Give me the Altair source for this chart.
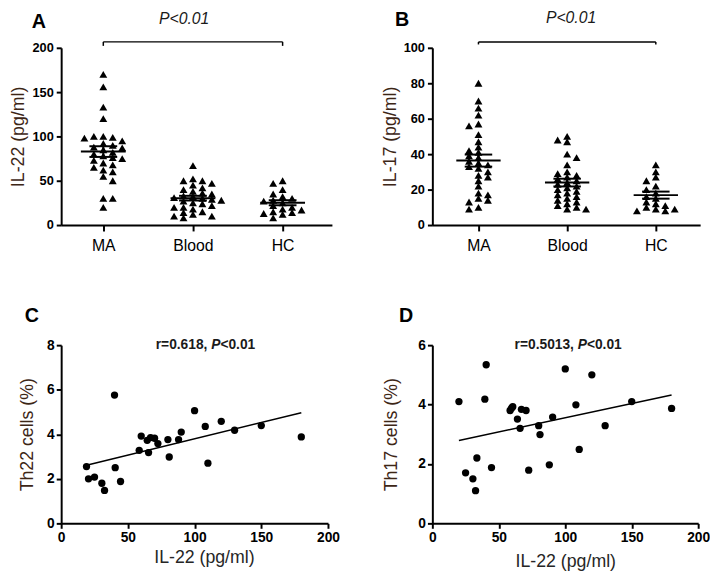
import json
import altair as alt
import numpy as np
import pandas as pd

CATS = ["MA", "Blood", "HC"]

# Panel A: IL-22 (pg/ml)
IL22_MA = [170, 156, 133, 120, 100, 100, 99, 98, 95, 92, 90, 88, 87, 85, 82, 80, 78, 76,
           75, 73, 70, 68, 65, 62, 60, 55, 50, 30, 30, 20]
IL22_BLOOD = [67, 52, 50, 50, 47, 45, 42, 40, 38, 36, 35, 33, 32, 31, 30, 29, 28, 27, 25,
              24, 22, 20, 20, 18, 15, 14, 12, 10, 10, 8]
IL22_HC = [50, 47, 40, 35, 32, 30, 28, 27, 25, 22, 20, 18, 17, 15, 14, 13, 12, 8]

# Panel B: IL-17 (pg/ml)
IL17_MA = [80, 70, 66, 62, 57, 56, 51, 47, 44, 42, 41, 39, 38, 36, 35, 34, 33, 32, 30, 28,
           27, 25, 22, 18, 17, 15, 14, 13, 10, 9]
IL17_BLOOD = [50, 48, 47, 40, 38, 34, 30, 29, 28, 27, 26, 25, 24, 23, 22, 21, 20, 19, 18,
              17, 16, 15, 14, 13, 12, 11, 10, 9, 9]
IL17_HC = [34, 30, 27, 25, 22, 20, 18, 16, 15, 13, 12, 11, 10, 9, 9, 8, 8]

# Panel C: IL-22 vs Th22 cells (%)
C_IL22 = [19, 20.5, 25, 30.5, 32.5, 40, 40.5, 44.5, 58.5, 60, 64.5, 65.5, 67, 70, 72.5,
          80, 81, 88, 90, 100, 108, 110, 120, 130, 150, 180]
C_TH22 = [2.55, 2.0, 2.08, 1.8, 1.48, 5.76, 2.5, 1.88, 3.28, 3.92, 3.73, 3.18, 3.85, 3.82,
          3.58, 3.76, 2.98, 3.76, 4.1, 5.06, 4.35, 2.7, 4.58, 4.18, 4.39, 3.88]

# Panel D: IL-22 vs Th17 cells (%)
D_IL22 = [20, 25, 30.5, 32.5, 33.5, 39.5, 40.5, 44.5, 58.5, 59.5, 60.5, 64, 66, 67, 70.5,
          72.5, 80, 81, 88, 90.5, 100, 108, 110.5, 120, 130, 150, 180]
D_TH17 = [4.1, 1.7, 1.5, 1.1, 2.2, 4.18, 5.34, 1.88, 3.8, 3.88, 3.93, 3.51, 3.2, 3.84, 3.8,
          1.79, 3.29, 2.99, 1.97, 3.58, 5.2, 3.99, 2.49, 5.0, 3.29, 4.1, 3.87]

FONT = "Liberation Sans"
YTITLE_COLOR = "#3d2616"
XTITLE_COLOR = "#262626"


def swarm(vals, ppu_y, ppu_x, dx=4.8, w=6.5, h=5.0):
    order = sorted(range(len(vals)), key=lambda i: -vals[i])
    placed = []
    offs = [0.0] * len(vals)
    for n, i in enumerate(order):
        y = vals[i] * ppu_y
        cands = [0]
        for m in range(1, 30):
            cands += [m, -m] if n % 2 == 0 else [-m, m]
        x = 0.0
        for k in cands:
            x = k * dx
            if all(abs(x - px) >= w or abs(y - py) >= h for px, py in placed):
                break
        placed.append((x, y))
        offs[i] = x / ppu_x
    return offs


def letter_mark(letter, px, py):
    return alt.Chart(pd.DataFrame({"t": [letter]})).mark_text(
        font=FONT, fontSize=20, fontWeight="bold", color="black", align="left",
        baseline="alphabetic").encode(x=alt.value(px), y=alt.value(py), text="t:N")


def dot_panel(groups, ymax, ystep, ytitle, letter, width, height, xdom,
              br_y, br_tail, p_y, p_dx, title_pad, letter_x, letter_y):
    ppx = width / (xdom[1] - xdom[0])
    ppy = height / ymax
    rows, stats = [], []
    for ci, vals in enumerate(groups):
        offs = swarm(vals, ppy, ppx)
        for v, o in zip(vals, offs):
            rows.append({"x": ci + o, "y": v})
        a = np.array(vals, float)
        m = a.mean()
        s = a.std(ddof=1) / np.sqrt(len(a))
        stats.append({"c": ci, "m": m, "lo": m - s, "hi": m + s})
    pts = pd.DataFrame(rows)
    st = pd.DataFrame(stats)
    mean_df = pd.DataFrame({"x": st.c - 0.25, "x2": st.c + 0.25, "y": st.m})
    cap_df = pd.DataFrame({"x": list(st.c - 0.155) * 2, "x2": list(st.c + 0.155) * 2,
                           "y": list(st.lo) + list(st.hi)})
    err_df = pd.DataFrame({"x": st.c, "y": st.lo, "y2": st.hi})
    last = len(CATS) - 1
    br_df = pd.DataFrame({"x": [0], "x2": [last], "y": [br_y]})
    tail_df = pd.DataFrame({"x": [0, last], "y": [br_y, br_y], "y2": [br_tail, br_tail]})
    p_df = pd.DataFrame({"x": [1], "y": [p_y], "t": ["P<0.01"]})

    label_expr = json.dumps(CATS) + "[datum.value]"
    X = alt.X("x:Q", scale=alt.Scale(domain=xdom, nice=False, zero=False),
              axis=alt.Axis(values=list(range(len(CATS))), labelExpr=label_expr, title=None,
                            labelFontSize=16, labelFontWeight="normal", labelPadding=7,
                            tickSize=6, labelFlush=False))
    Y = alt.Y("y:Q", scale=alt.Scale(domain=[0, ymax], nice=False),
              axis=alt.Axis(values=list(range(0, ymax + 1, ystep)), title=ytitle,
                            titleFontSize=18, titleFontWeight="normal",
                            titleColor=YTITLE_COLOR, titlePadding=title_pad,
                            labelFontSize=13, labelFontWeight="bold", labelPadding=3,
                            tickSize=5))

    points = alt.Chart(pts).mark_point(shape="triangle-up", filled=True, size=64,
                                       color="black", opacity=1).encode(x=X, y=Y)
    mean_l = alt.Chart(mean_df).mark_rule(color="black", strokeWidth=2).encode(
        x=X, x2="x2:Q", y=Y)
    caps = alt.Chart(cap_df).mark_rule(color="black", strokeWidth=2).encode(
        x=X, x2="x2:Q", y=Y)
    err = alt.Chart(err_df).mark_rule(color="black", strokeWidth=2).encode(
        x=X, y=Y, y2="y2:Q")
    br = alt.Chart(br_df).mark_rule(color="black", strokeWidth=1.5).encode(
        x=X, x2="x2:Q", y=Y)
    tails = alt.Chart(tail_df).mark_rule(color="black", strokeWidth=1.5).encode(
        x=X, y=Y, y2="y2:Q")
    ptxt = alt.Chart(p_df).mark_text(font=FONT, fontSize=16, fontStyle="italic",
                                     dx=p_dx, baseline="middle", color="#1a1a1a").encode(
        x=X, y=Y, text="t:N")
    return alt.layer(points, err, mean_l, caps, br, tails, ptxt,
                     letter_mark(letter, letter_x, letter_y)).properties(
        width=width, height=height)


def corr_panel(xs, ys, ymax, ytitle, letter, width, height, r_text, x_anchor,
               title_pad, xtitle_pad, xtitle_x, letter_x, letter_y):
    df = pd.DataFrame({"x": xs, "y": ys})
    xaxis_kw = dict(values=[0, 50, 100, 150, 200], title="IL-22 (pg/ml)", titleFontSize=18,
                    titleFontWeight="normal", titleColor=XTITLE_COLOR,
                    titlePadding=xtitle_pad, labelFontSize=14, labelFontWeight="bold",
                    labelPadding=2, tickSize=5, labelFlush=False)
    if xtitle_x is not None:
        xaxis_kw["titleX"] = xtitle_x
    X = alt.X("x:Q", scale=alt.Scale(domain=[0, 200], nice=False),
              axis=alt.Axis(**xaxis_kw))
    Y = alt.Y("y:Q", scale=alt.Scale(domain=[0, ymax], nice=False),
              axis=alt.Axis(values=list(range(0, ymax + 1, 2)), title=ytitle,
                            titleFontSize=18, titleFontWeight="normal",
                            titleColor=YTITLE_COLOR, titlePadding=title_pad,
                            labelFontSize=14, labelFontWeight="bold", labelPadding=2,
                            tickSize=5))
    pts = alt.Chart(df).mark_circle(size=55, color="black", opacity=1).encode(x=X, y=Y)
    fit = alt.Chart(df).transform_regression("x", "y").mark_line(
        color="black", strokeWidth=1.5).encode(x=X, y=Y)
    ann = pd.DataFrame({"x": [x_anchor], "y": [ymax]})
    t1 = alt.Chart(ann).mark_text(font=FONT, fontSize=14, fontWeight="bold", align="right",
                                  baseline="middle", dx=-3.9, color="#1a1a1a").encode(
        x=X, y=Y, text=alt.value(r_text))
    t2 = alt.Chart(ann).mark_text(font=FONT, fontSize=14, fontWeight="bold",
                                  fontStyle="italic", align="left", baseline="middle",
                                  color="#1a1a1a").encode(x=X, y=Y, text=alt.value("P"))
    t3 = alt.Chart(ann).mark_text(font=FONT, fontSize=14, fontWeight="bold", align="left",
                                  baseline="middle", dx=9.3, color="#1a1a1a").encode(
        x=X, y=Y, text=alt.value("<0.01"))
    return alt.layer(pts, fit, t1, t2, t3, letter_mark(letter, letter_x, letter_y)).properties(
        width=width, height=height)


pA = dot_panel([IL22_MA, IL22_BLOOD, IL22_HC], 200, 50, "IL-22 (pg/ml)", "A",
               275, 180, [-0.47, 2.55], 206.7, 202.2, 232, -9, 5, -30, -20)
pB = dot_panel([IL17_MA, IL17_BLOOD, IL17_HC], 100, 20, "IL-17 (pg/ml)", "B",
               272, 180, [-0.52, 2.5], 103.3, 101.9, 116.8, 4, 4, -38, -22)
pC = corr_panel(C_IL22, C_TH22, 8, "Th22 cells (%)", "C", 271, 181, "r=0.618,", 112.5,
                10, 5, 145, -37, -24)
pD = corr_panel(D_IL22, D_TH17, 6, "Th17 cells (%)", "D", 270, 181, "r=0.5013,", 109.4,
                18, 9, None, -34, -24)

chart = alt.concat(pA, pB, pC, pD, columns=2, spacing={"row": 122, "column": 102},
                   bounds="flush", align="none").properties(
    padding={"left": 1, "top": -3, "right": 0, "bottom": 0}
).configure(font=FONT).configure_view(stroke=None).configure_axis(
    grid=False, domainColor="black", tickColor="black", labelColor="black",
    domainWidth=2, tickWidth=2, labelFont=FONT, titleFont=FONT
)

chart.save("out.html", embed_options={"renderer": "svg", "actions": False})
